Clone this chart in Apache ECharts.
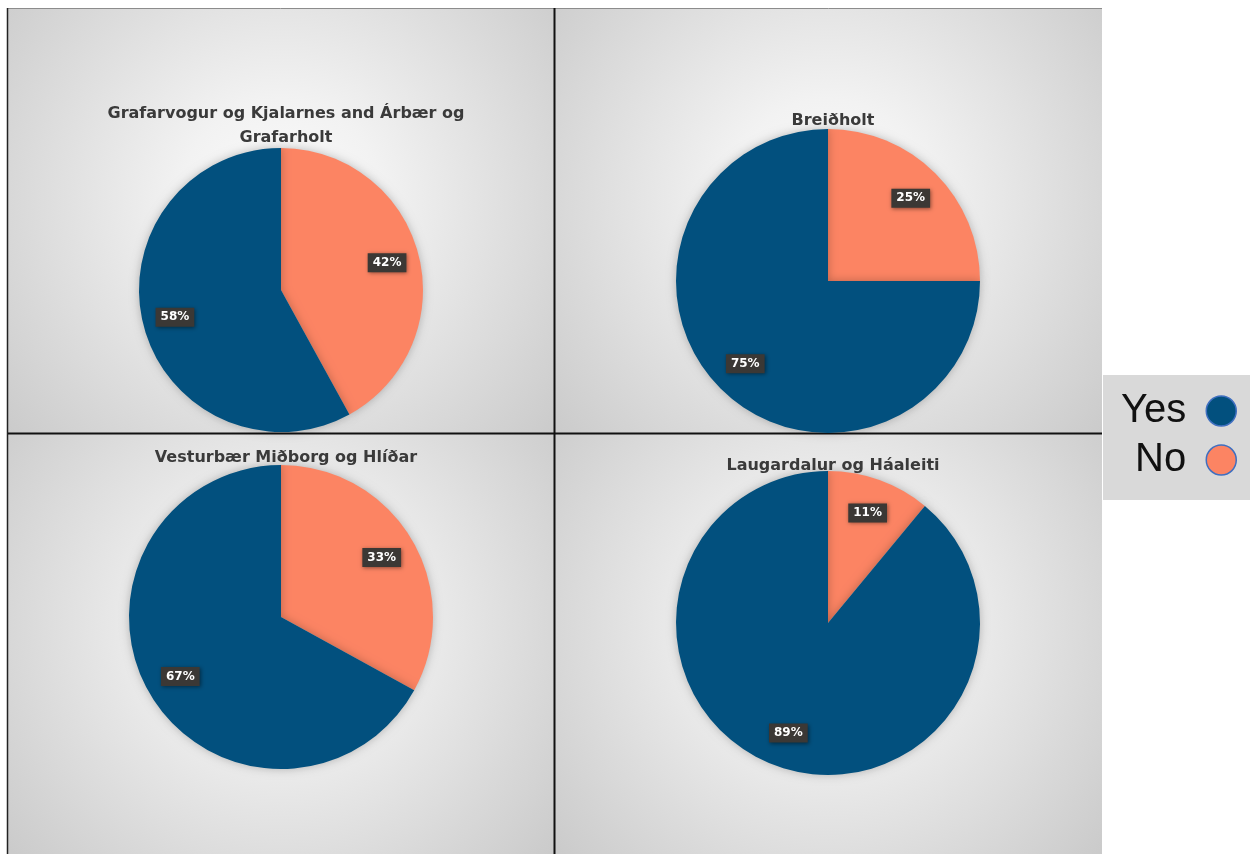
<!DOCTYPE html>
<html>
<head>
<meta charset="utf-8">
<script src="https://cdn.jsdelivr.net/npm/echarts@6/dist/echarts.min.js"></script>
<style>
  html, body { margin: 0; padding: 0; background: #fff; }
  #chart { width: 1250px; height: 854px; }
</style>
</head>
<body>
<div id="chart"></div>
<script>
// answer categories (clockwise from 12 o'clock: No, then Yes)
const categories = ['No', 'Yes'];
const legendOrder = ['Yes', 'No'];

// district titles and their shares in %
const titles = [
  'Grafarvogur og Kjalarnes and Árbær og\nGrafarholt',
  'Breiðholt',
  'Vesturbær Miðborg og Hlíðar',
  'Laugardalur og Háaleiti'
];
const noValues = [42, 25, 33, 11];
const yesValues = [58, 75, 67, 89];

const colors = { Yes: '#02507e', No: '#fc8463' };

// panel layout: [x, y, w, h], pie center and radius, title top
const panels = [
  { rect: [8, 9, 546, 424], center: [281, 290], r: 142, titleTop: 97 },
  { rect: [555, 9, 547, 424], center: [828, 281], r: 152, titleTop: 104 },
  { rect: [8, 434, 546, 420], center: [281, 617], r: 152, titleTop: 441 },
  { rect: [555, 434, 547, 420], center: [828, 623], r: 152, titleTop: 449 }
];

const chart = echarts.init(document.getElementById('chart'));

const bgGradient = {
  type: 'radial', x: 0.5, y: 0.45, r: 0.95,
  colorStops: [
    { offset: 0, color: '#fbfbfb' },
    { offset: 0.25, color: '#f2f2f2' },
    { offset: 1, color: '#c4c4c4' }
  ]
};

const graphics = panels.map(p => ({
  type: 'rect', z: -10,
  shape: { x: p.rect[0], y: p.rect[1], width: p.rect[2], height: p.rect[3] },
  style: { fill: bgGradient }
}));
graphics.push(
  { type: 'line', z: -5, shape: { x1: 7, y1: 8.5, x2: 1102, y2: 8.5 }, style: { stroke: '#8c8c8c', lineWidth: 1 } },
  { type: 'line', z: -5, shape: { x1: 7.5, y1: 8, x2: 7.5, y2: 854 }, style: { stroke: '#222', lineWidth: 1.5 } },
  { type: 'line', z: -5, shape: { x1: 554.5, y1: 8, x2: 554.5, y2: 854 }, style: { stroke: '#111', lineWidth: 2 } },
  { type: 'line', z: -5, shape: { x1: 8, y1: 433.5, x2: 1102, y2: 433.5 }, style: { stroke: '#111', lineWidth: 2 } },
  { type: 'rect', z: -10, shape: { x: 1103, y: 375, width: 147, height: 125 }, style: { fill: '#d9d9d9' } }
);

const series = [];
panels.forEach((p, i) => {
  const data = categories.map((c, k) => ({
    name: c,
    value: k === 0 ? noValues[i] : yesValues[i],
    itemStyle: { color: colors[c] }
  }));
  series.push({
    type: 'pie',
    center: p.center,
    radius: [0, p.r],
    startAngle: 90,
    clockwise: true,
    animation: false,
    label: { show: false },
    labelLine: { show: false },
    emphasis: { disabled: true },
    itemStyle: { shadowBlur: 10, shadowColor: 'rgba(0,0,0,0.25)' },
    data: data
  });
  // label-only ring so labels sit at ~3/4 of the radius
  series.push({
    type: 'pie',
    center: p.center,
    radius: [p.r * 0.5, p.r],
    startAngle: 90,
    animation: false,
    silent: true,
    z: 5,
    itemStyle: { color: 'rgba(0,0,0,0)' },
    emphasis: { disabled: true },
    label: {
      show: true,
      position: 'inside',
      formatter: '{c}%',
      color: '#ffffff',
      fontFamily: '"DejaVu Sans", Verdana, sans-serif',
      fontWeight: 'bold',
      fontSize: 12,
      backgroundColor: '#3b3835',
      padding: [4, 5, 3, 5],
      shadowBlur: 4,
      shadowOffsetX: 1,
      shadowOffsetY: 1,
      shadowColor: 'rgba(0,0,0,0.45)'
    },
    labelLine: { show: false },
    data: categories.map((c, k) => ({ name: c, value: k === 0 ? noValues[i] : yesValues[i] }))
  });
});

chart.setOption({
  animation: false,
  title: panels.map((p, i) => ({
    text: titles[i],
    left: p.center[0],
    top: p.titleTop,
    textAlign: 'center',
    textStyle: {
      fontFamily: '"DejaVu Sans", Verdana, sans-serif',
      fontSize: 16,
      fontWeight: 'bold',
      color: '#3a3a3a',
      lineHeight: 24
    }
  })),
  legend: {
    data: legendOrder,
    orient: 'vertical',
    left: 1116,
    top: 386,
    align: 'right',
    icon: 'circle',
    itemWidth: 30,
    itemHeight: 30,
    itemGap: 9,
    selectedMode: false,
    itemStyle: { borderColor: '#3f6fc0', borderWidth: 1.5, shadowBlur: 0 },
    textStyle: {
      fontFamily: 'Arial, "Liberation Sans", sans-serif',
      fontSize: 40,
      lineHeight: 38,
      color: '#111',
      padding: [0, 15, 0, 0]
    }
  },
  graphic: graphics,
  series: series
});
</script>
</body>
</html>
